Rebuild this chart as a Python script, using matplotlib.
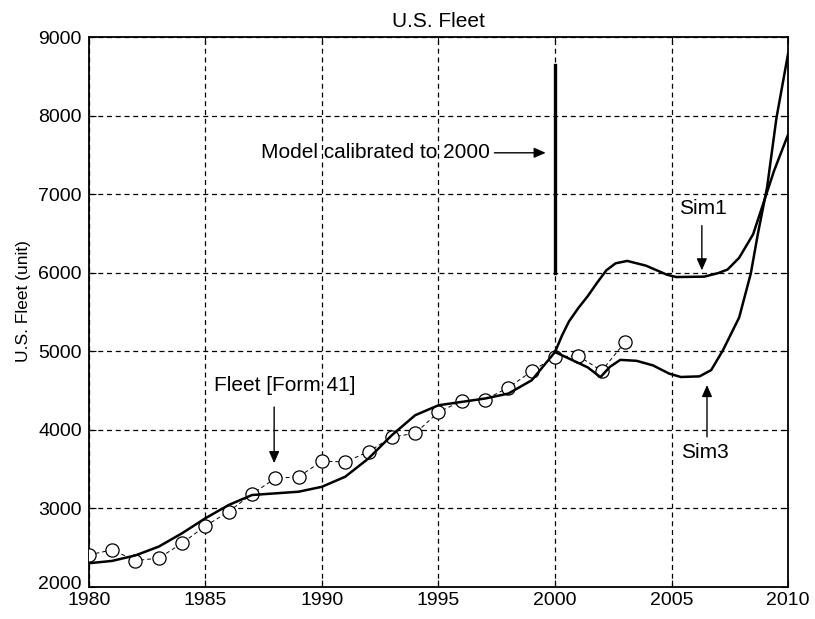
#Python imports
#----------------
import matplotlib
matplotlib.use('Agg')
import matplotlib.pyplot as plt
import matplotlib.transforms as mtransforms
#----------------

#********************************
#   DATA
#********************************
# Form 41 fleet data
fleet_years = [1980, 1981, 1982, 1983, 1984, 1985, 1986, 1987, 1988, 1989,
               1990, 1991, 1992, 1993, 1994, 1995, 1996, 1997, 1998, 1999,
               2000, 2001, 2002, 2003]
fleet_vals = [2407, 2470, 2334, 2365, 2555, 2775, 2957, 3182, 3381, 3402,
              3600, 3590, 3720, 3910, 3953, 4225, 4367, 4385, 4537, 4745,
              4930, 4940, 4750, 5115]

# common simulation (calibration period)
calib_years = [1980, 1981, 1982, 1983, 1984, 1985, 1986, 1987, 1988, 1989,
               1990, 1991, 1992, 1993, 1994, 1995, 1996, 1997, 1998, 1999, 2000]
calib_vals = [2300, 2330, 2400, 2512, 2682, 2873, 3042, 3169, 3190, 3211,
              3274, 3402, 3635, 3931, 4185, 4312, 4355, 4398, 4461, 4630, 4990]

# Sim1 after 2000
sim1_years = [2000, 2000.3, 2000.6, 2001.0, 2001.4, 2001.8, 2002.2, 2002.6,
              2003.1, 2003.9, 2004.8, 2005.2, 2006.4, 2007.0, 2007.4, 2007.9,
              2008.5, 2008.9, 2009.4, 2010]
sim1_vals = [4990, 5200, 5380, 5550, 5700, 5870, 6030, 6120,
             6150, 6090, 5975, 5945, 5950, 5995, 6040, 6190,
             6490, 6850, 7300, 7760]

# Sim3 after 2000
sim3_years = [2000, 2000.9, 2001.4, 2001.95, 2002.35, 2002.8, 2003.5, 2004.2,
              2004.9, 2005.4, 2006.2, 2006.7, 2007.2, 2007.9, 2008.4, 2008.7,
              2009.1, 2009.5, 2010]
sim3_vals = [4990, 4865, 4795, 4670, 4800, 4890, 4878, 4820,
             4715, 4672, 4680, 4760, 5010, 5430, 5990, 6490,
             7090, 7970, 8790]

xticks = [1980, 1985, 1990, 1995, 2000, 2005, 2010]
yticks = [2000, 3000, 4000, 5000, 6000, 7000, 8000, 9000]

# Figures
plt.rcParams['font.family'] = ['Liberation Sans', 'DejaVu Sans']
plt.rcParams['font.size'] = 15

#======================
#   MAIN
#======================
fig = plt.figure(figsize=(8.15, 6.19), dpi=100)
ax = fig.add_axes([0.109, 0.052, 0.858, 0.888])

ax.plot(fleet_years, fleet_vals, 'o', color='k', mfc='white', ms=9.5, mew=0.9,
        ls=(0, (4, 3)), lw=0.7, zorder=3)
ax.plot(calib_years, calib_vals, '-k', lw=1.8, zorder=4)
ax.plot(sim1_years, sim1_vals, '-k', lw=1.8, zorder=4)
ax.plot(sim3_years, sim3_vals, '-k', lw=1.8, zorder=4)

# calibration marker
ax.plot([2000, 2000], [6000, 8650], '-k', lw=2.4, zorder=5)

ax.set_xlim(1980, 2010)
ax.set_ylim(2000, 9000)
ax.set_xticks(xticks)
ax.set_yticks(yticks)
ax.tick_params(direction='in', top=True, right=True, labelsize=14, length=5)
ax.tick_params(axis='x', pad=4)
ax.tick_params(axis='y', pad=5)
ax.grid(True, color='k', linestyle=(0, (4, 3)), linewidth=0.9)
for s in ax.spines.values():
    s.set_linewidth(1.3)

ax.set_title('U.S. Fleet', fontsize=15, pad=7)
ax.set_ylabel('U.S. Fleet (unit)', fontsize=12.5)
ax.yaxis.set_label_coords(-0.082, 0.52)

arr = dict(arrowstyle='-|>,head_length=0.5,head_width=0.22', color='k', lw=1.0,
           mutation_scale=14, shrinkA=0, shrinkB=0)

# Model calibrated to 2000
ax.text(1997.2, 7527, 'Model calibrated to 2000', ha='right', va='center', fontsize=15)
ax.annotate('', xy=(1999.6, 7527), xytext=(1997.4, 7527), arrowprops=arr)

# Fleet [Form 41]
ax.text(1988.4, 4560, 'Fleet [Form 41]', ha='center', va='center', fontsize=15)
ax.annotate('', xy=(1987.95, 3575), xytext=(1987.95, 4290), arrowprops=arr)

# Sim1
ax.text(2006.35, 6816, 'Sim1', ha='center', va='center', fontsize=15)
ax.annotate('', xy=(2006.3, 6030), xytext=(2006.3, 6600), arrowprops=arr)

# Sim3
ax.text(2006.45, 3715, 'Sim3', ha='center', va='center', fontsize=15)
ax.annotate('', xy=(2006.52, 4570), xytext=(2006.52, 3910), arrowprops=arr)

# lift the bottom y label a little so it clears the first x label
lab = ax.get_yticklabels()[0]
lab.set_transform(lab.get_transform() +
                  mtransforms.ScaledTranslation(0, 4 / 100, fig.dpi_scale_trans))

fig.savefig('out.png', dpi=100)
